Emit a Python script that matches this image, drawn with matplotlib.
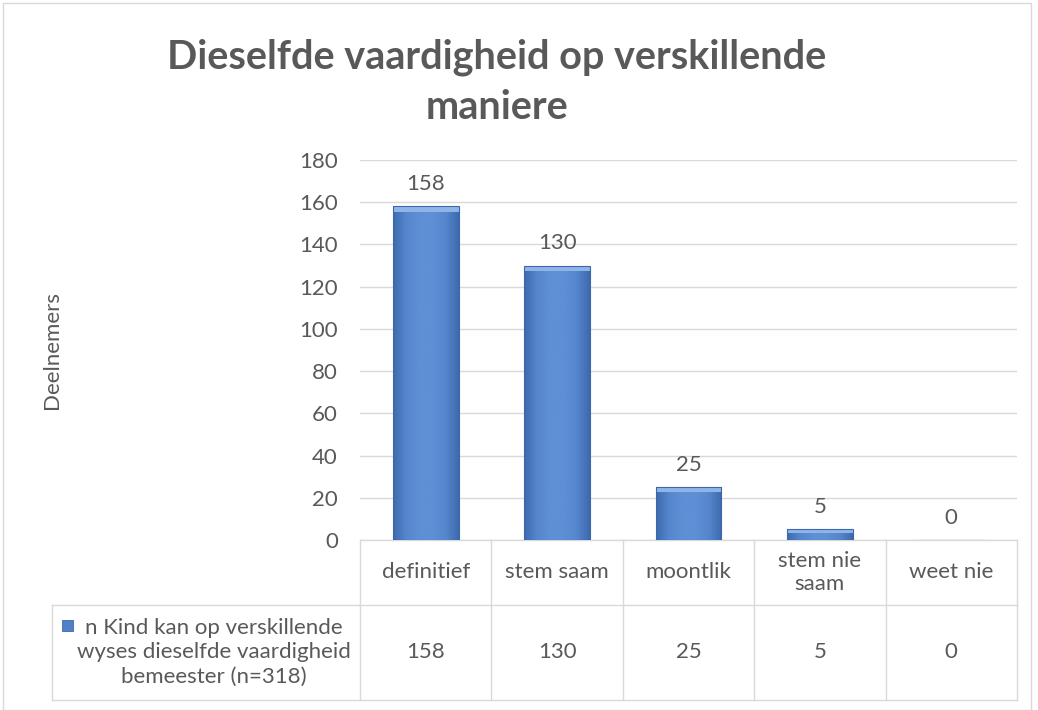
import matplotlib
matplotlib.use("Agg")
import matplotlib.pyplot as plt
import numpy as np
from matplotlib.colors import LinearSegmentedColormap
from matplotlib.patches import Rectangle
import matplotlib.transforms as mtransforms

categories = ["definitief", "stem saam", "moontlik", "stem nie\nsaam", "weet nie"]
values = [158, 130, 25, 5, 0]
series_name = "n Kind kan op verskillende\nwyses dieselfde vaardigheid\nbemeester (n=318)"
title = "Dieselfde vaardigheid op verskillende\nmaniere"
ylabel = "Deelnemers"
yticks = [0, 20, 40, 60, 80, 100, 120, 140, 160, 180]

FONT = ["Lato", "DejaVu Sans"]
TXT = "#595959"
GRID = "#D9D9D9"
FS = 16

plt.rcParams["font.family"] = FONT

fig = plt.figure(figsize=(10.38, 7.10), dpi=100)
W, H = 1038, 710
ax = fig.add_axes([360 / W, (H - 540) / H, 657 / W, 380 / H])

x = np.arange(len(categories))
bars = ax.bar(x, values, width=0.5, color="#5A8AD0", edgecolor="#3C68AA",
              linewidth=0.8, zorder=3)

# bevel-like gradient inside bars
cmap = LinearSegmentedColormap.from_list(
    "bev", ["#3D6AAE", "#5686CD", "#5F8FD5", "#5F8FD5", "#5686CD", "#3D6AAE"])
grad = np.linspace(0, 1, 256).reshape(1, -1)
for b in bars:
    if b.get_height() <= 0:
        continue
    x0, y0 = b.get_x(), b.get_y()
    x1, y1 = x0 + b.get_width(), y0 + b.get_height()
    im = ax.imshow(grad, extent=[x0, x1, y0, y1], aspect="auto", cmap=cmap,
                   zorder=3.5, interpolation="bicubic")
    im.set_clip_path(b)
    th = min(2.4, b.get_height() * 0.35)
    top = Rectangle((x0, y1 - th), b.get_width(), th, facecolor="#8FB5E8",
                    edgecolor="none", zorder=3.6)
    ax.add_patch(top)
    top.set_clip_path(b)
    b.set_zorder(3.7)
    b.set_facecolor("none")

for xi, v in zip(x, values):
    ax.annotate(f"{v}", (xi, v), xytext=(0, 9), textcoords="offset points",
                ha="center", va="bottom", fontsize=FS, color=TXT)

ax.set_xlim(-0.5, len(categories) - 0.5)
ax.set_ylim(0, 180)
ax.set_yticks(yticks)
ax.yaxis.grid(True, color=GRID, linewidth=1.0, zorder=0)
ax.set_axisbelow(True)
for s in ["top", "right", "left"]:
    ax.spines[s].set_visible(False)
ax.spines["bottom"].set_color(GRID)
ax.spines["bottom"].set_linewidth(1.0)
ax.tick_params(axis="y", length=0, labelsize=FS, labelcolor=TXT, pad=16)
ax.set_xticks([])
ax.set_ylabel(ylabel, fontsize=FS, color=TXT, labelpad=0)
ax.yaxis.set_label_coords(-(360 - 62) / 657, 0.5)

# data table
trans = mtransforms.blended_transform_factory(ax.transData, ax.transAxes)
row1 = -(605 - 540) / 380
row2 = -(700 - 540) / 380
left_x = -0.5 - (360 - 52) / 657 * len(categories)
n = len(categories)
lk = dict(color=GRID, linewidth=1.0, transform=trans, clip_on=False)
ax.plot([left_x, n - 0.5], [row1, row1], **lk)
ax.plot([left_x, n - 0.5], [row2, row2], **lk)
ax.plot([left_x, left_x], [row1, row2], **lk)
for i in range(n + 1):
    ax.plot([i - 0.5, i - 0.5], [0, row2], **lk)
for xi, c, v in zip(x, categories, values):
    ax.text(xi, row1 / 2, c, transform=trans, ha="center", va="center",
            fontsize=FS, color=TXT, linespacing=1.2, clip_on=False)
    ax.text(xi, (row1 + row2) / 2, f"{v}", transform=trans, ha="center",
            va="center", fontsize=FS, color=TXT, clip_on=False)
ax.text(-0.5 - (360 - 214) / 657 * n, (row1 + row2) / 2, series_name,
        transform=trans, ha="center", va="center", fontsize=FS, color=TXT,
        linespacing=1.25, clip_on=False)
# legend key
ax.add_patch(Rectangle((62 / W, (H - 631) / H), 11 / W, 11 / H,
                       transform=fig.transFigure, facecolor="#4F80C8",
                       edgecolor="#3C68AA", linewidth=0.6, clip_on=False))

fig.text(497 / W, (H - 82) / H, title, ha="center", va="center",
         fontsize=28.5, fontweight="bold", color=TXT, linespacing=1.45)

# chart border
fig.patches.append(Rectangle((3 / W, 0), (1031 - 3) / W, (H - 3) / H,
                             transform=fig.transFigure, facecolor="none",
                             edgecolor=GRID, linewidth=1.0))

fig.savefig("out.png", dpi=100)
